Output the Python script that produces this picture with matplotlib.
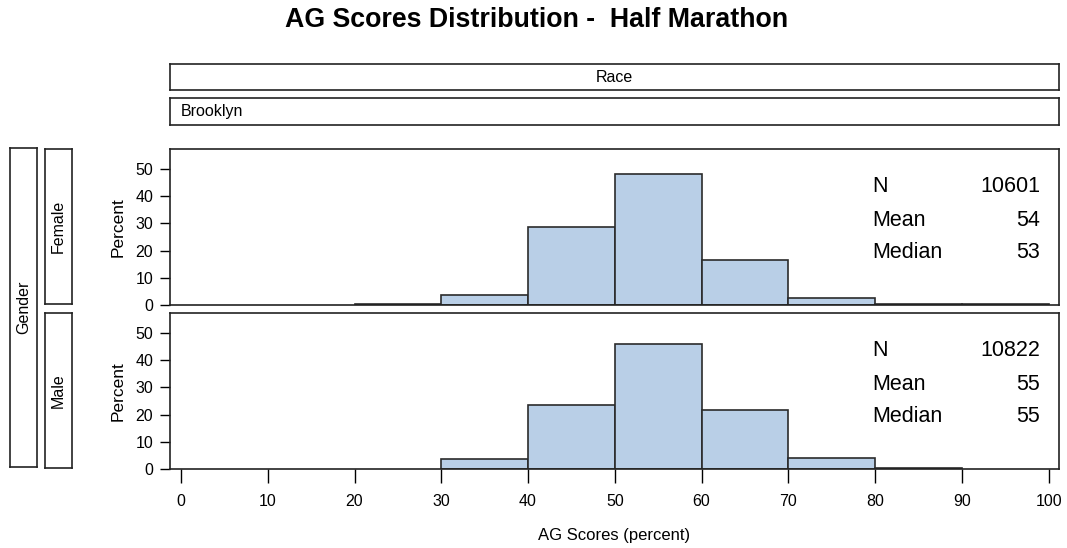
import numpy as np
import matplotlib.pyplot as plt

plt.rcParams['font.family'] = ['Liberation Sans', 'DejaVu Sans']

# histogram data (percent per 10-point bin)
bin_edges = [0, 10, 20, 30, 40, 50, 60, 70, 80, 90, 100]
female_pct = [0, 0, 0.3, 3.7, 28.7, 48.2, 16.5, 2.6, 0.3, 0.2]
male_pct = [0, 0, 0, 3.7, 23.7, 45.9, 21.8, 4.1, 0.5, 0]

genders = ['Female', 'Male']
n_vals = [10601, 10822]
mean_vals = [54, 55]
median_vals = [53, 55]

W, H = 1067, 548
fill = '#B9CFE7'
edge = '#2b2b2b'


def box(l, t, r, b):
    # pixel box -> figure fraction rect
    return [l / W, 1 - b / H, (r - l) / W, (b - t) / H]


def strip(rect, label, rot=0, ha='center'):
    a = fig.add_axes(rect)
    a.set_xticks([])
    a.set_yticks([])
    for s in a.spines.values():
        s.set_linewidth(1.2)
        s.set_color('#222222')
    x = 0.5 if ha == 'center' else 0.012
    a.text(x, 0.5, label, rotation=rot, ha=ha, va='center', fontsize=11.5,
           transform=a.transAxes)
    return a


fig = plt.figure(figsize=(W / 100, H / 100), dpi=100)
fig.text(537 / W, 1 - 20 / H, 'AG Scores Distribution -  Half Marathon',
         ha='center', va='center', fontsize=19.3, fontweight='bold')

strip(box(170, 64, 1059, 90), 'Race')
strip(box(170, 98, 1059, 125), 'Brooklyn', ha='left')
strip(box(10, 148, 37, 467), 'Gender', rot=90)

panels = [(149, 305), (313, 469)]
data = [female_pct, male_pct]
edges = np.array(bin_edges)

for i, (top, bot) in enumerate(panels):
    strip(box(45, top, 72, bot - 1), genders[i], rot=90)
    ax = fig.add_axes(box(170, top, 1059, bot))
    pct = np.array(data[i])
    keep = pct > 0
    ax.bar(edges[:-1][keep], pct[keep], width=10, align='edge',
           color=fill, edgecolor=edge, linewidth=1.2)
    ax.set_xlim(-1.27, 101.2)
    ax.set_ylim(0, 57.4)
    ax.set_yticks([0, 10, 20, 30, 40, 50])
    ax.tick_params(axis='y', direction='out', length=7, width=1, labelsize=11.5, pad=5)
    ax.set_ylabel('Percent', fontsize=12.5, labelpad=7)
    for s in ax.spines.values():
        s.set_linewidth(1.2)
        s.set_color('#222222')
    if i == 0:
        ax.set_xticks([])
    else:
        ax.set_xticks(range(0, 101, 10))
        ax.tick_params(axis='x', direction='out', length=10, width=1, labelsize=11.5, pad=8)
        ax.set_xlabel('AG Scores (percent)', fontsize=12, labelpad=14)

    rows = [('N', n_vals[i]), ('Mean', mean_vals[i]), ('Median', median_vals[i])]
    for j, (lab, val) in enumerate(rows):
        yy = 1 - (38 + 33 * j) / (bot - top)
        ax.text(0.7897, yy, lab, transform=ax.transAxes, fontsize=15.5,
                ha='left', va='center')
        ax.text(0.9786, yy, str(val), transform=ax.transAxes, fontsize=15.5,
                ha='right', va='center')

plt.savefig('out.png', dpi=100)
